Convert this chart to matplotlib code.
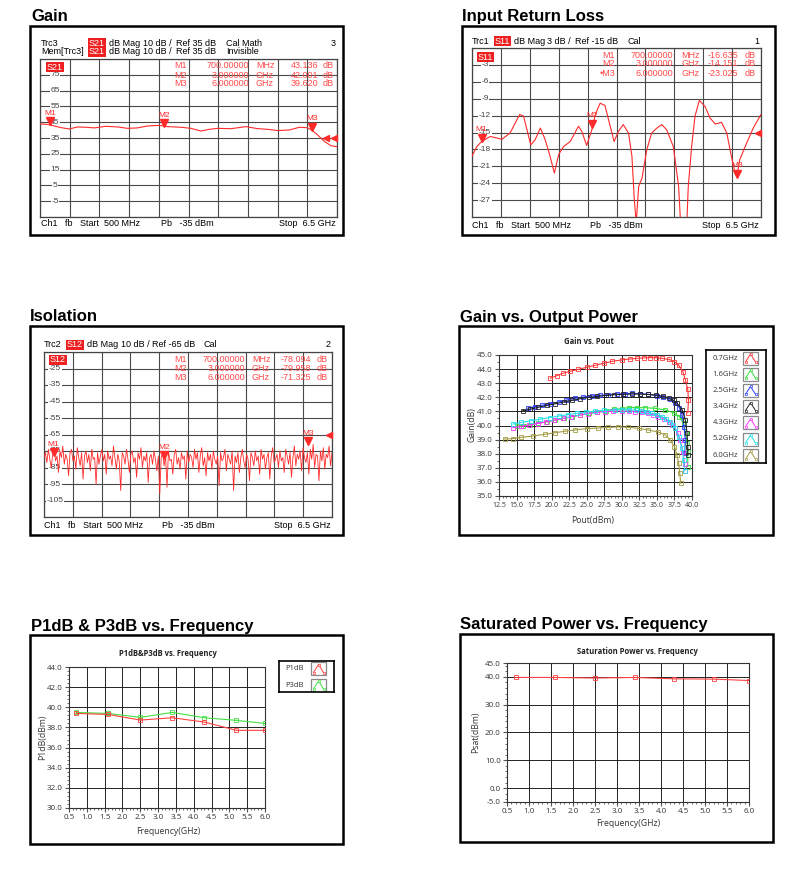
import numpy as np
import matplotlib
matplotlib.use("Agg")
import matplotlib.pyplot as plt
from matplotlib.patches import Rectangle
from matplotlib.ticker import MultipleLocator, AutoMinorLocator, FormatStrFormatter
from matplotlib.transforms import offset_copy

W, H = 806, 873
plt.rcParams['font.family'] = ['Liberation Sans', 'DejaVu Sans']

VNA_RED = '#ff2a2a'

# --- Gain (S21) trace, GHz / dB ---
gain_freq = [0.5, 0.65, 0.79, 0.92, 1.09, 1.26, 1.43, 1.6, 1.83, 2.07, 2.27, 2.47, 2.67,
             2.91, 3.08, 3.35, 3.55, 3.75, 3.92, 4.09, 4.36, 4.66, 4.9, 5.1, 5.3, 5.54,
             5.74, 5.9, 6.0, 6.11, 6.25, 6.38, 6.5]
gain_s21 = [43.9, 43.6, 42.6, 41.6, 40.7, 42.0, 41.8, 41.4, 42.4, 42.0, 41.1, 41.4, 42.6,
            43.0, 42.2, 41.8, 41.1, 39.4, 40.5, 41.1, 40.9, 42.2, 40.9, 40.5, 39.7, 40.1,
            41.8, 41.5, 39.8, 36.9, 32.7, 30.1, 29.5]
gain_mk_freq = [0.7, 3.0, 6.0]
gain_mk_val = [43.136, 42.001, 39.620]

# --- Input return loss (S11) ---
irl_freq = [0.5, 0.6, 0.7, 0.88, 1.12, 1.29, 1.49, 1.57, 1.72, 1.81, 1.92, 2.02, 2.12, 2.21,
            2.30, 2.40, 2.54, 2.71, 2.78, 2.88, 3.0, 3.06, 3.16, 3.26, 3.37, 3.45, 3.54, 3.64,
            3.75, 3.82, 3.87, 3.91, 3.96, 4.03, 4.13, 4.23, 4.34, 4.44, 4.54, 4.68, 4.79, 4.83,
            4.96, 4.99, 5.06, 5.13, 5.22, 5.34, 5.44, 5.55, 5.68, 5.79, 5.87, 5.96, 6.0, 6.06,
            6.20, 6.34, 6.5]
irl_s11 = [-19.2, -17.5, -16.6, -15.7, -16.2, -15.1, -11.8, -12.1, -17.2, -16.3, -14.2, -16.3,
           -19.2, -22.2, -18.9, -17.5, -16.6, -13.9, -14.8, -17.3, -14.2, -11.8, -9.8, -10.2,
           -13.9, -16.6, -14.8, -13.6, -15.1, -19.2, -26.9, -31.0, -24.6, -23.1, -18.0, -15.1,
           -14.2, -13.6, -14.5, -17.5, -24.6, -31.0, -31.0, -24.6, -17.5, -12.1, -9.3, -10.4,
           -12.4, -13.5, -13.2, -15.1, -18.6, -22.2, -22.8, -19.8, -16.9, -14.2, -11.8]
irl_mk_freq = [0.7, 3.0, 6.0]
irl_mk_val = [-16.635, -14.151, -23.025]

# --- Isolation (S12), 200 sweep points from 0.5 to 6.5 GHz ---
iso_s12 = [
    -79, -76, -82, -74, -80, -85, -77, -73, -81, -78, -88, -75, -79, -72, -83, -77, -80, -90, -76, -74,
    -81, -78, -86, -73, -79, -84, -76, -92, -78, -75, -82, -77, -87, -74, -80, -79, -95, -76, -83, -78,
    -74, -81, -77, -89, -75, -80, -78, -84, -72, -79, -86, -77, -81, -99, -76, -78, -83, -74, -80, -88,
    -77, -75, -82, -79, -91, -76, -80, -73, -85, -78, -81, -76, -94, -79, -77, -83, -75, -80, -87, -78,
    -101, -79, -76, -84, -78, -97, -75, -81, -80, -89, -77, -74, -83, -79, -86, -76, -80, -78, -92, -75,
    -82, -77, -79, -85, -74, -80, -76, -88, -78, -73, -84, -79, -90, -76, -81, -77, -86, -75, -80, -83,
    -78, -96, -76, -81, -79, -74, -87, -77, -80, -83, -75, -99, -78, -82, -76, -88, -79, -74, -81, -85,
    -77, -80, -93, -76, -79, -84, -75, -81, -78, -89, -74, -80, -77, -86, -79, -76, -92, -78, -73, -82,
    -80, -77, -85, -75, -81, -79, -88, -74, -78, -83, -76, -91, -79, -72, -84, -77, -80, -75, -87, -73,
    -79, -82, -76, -89, -74, -80, -71, -85, -77, -78, -93, -75, -81, -73, -86, -77, -79, -72, -84, -76,
]
iso_mk_freq = [0.7, 3.0, 6.0]
iso_mk_val = [-78.094, -79.958, -71.325]

# --- Gain vs Pout ---
pout_labels = ['0.7GHz', '1.6GHz', '2.5GHz', '3.4GHz', '4.3GHz', '5.2GHz', '6.0GHz']
pout_colors = ['#ff3838', '#33dd33', '#2b3cff', '#222222', '#ff33ff', '#22e0e8', '#a39c45']
pout_07 = [19.8, 20.7, 21.6, 22.6, 23.8, 25.0, 26.2, 27.4, 28.6, 30.0, 31.2, 32.1, 33.1, 34.0,
           34.8, 35.7, 36.7, 37.5, 38.1, 38.7, 39.05, 39.4, 39.5, 39.4]
gain_07 = [43.35, 43.53, 43.7, 43.84, 43.98, 44.13, 44.27, 44.41, 44.55, 44.65, 44.72, 44.76,
           44.79, 44.81, 44.81, 44.76, 44.69, 44.53, 44.29, 43.82, 43.23, 42.56, 41.8, 40.9]
pout_16 = [15.0, 15.9, 16.9, 18.1, 19.3, 20.5, 21.7, 22.9, 24.1, 25.3, 26.5, 27.7, 28.9, 30.0,
           31.0, 32.1, 33.3, 34.75, 36.2, 37.4, 38.2, 38.8, 39.1, 39.3, 39.4, 39.4]
gain_16 = [39.95, 40.0, 40.05, 40.15, 40.26, 40.37, 40.5, 40.62, 40.74, 40.86, 40.97, 41.06,
           41.14, 41.2, 41.26, 41.27, 41.26, 41.22, 41.1, 40.9, 40.63, 40.15, 39.44, 38.74,
           38.14, 37.08]
pout_25 = [16.6, 17.6, 18.6, 19.8, 21.0, 22.1, 23.3, 24.5, 25.7, 26.9, 28.1, 29.3, 30.5, 31.4,
           32.6, 33.8, 35.0, 35.9, 36.9, 37.6, 38.2, 38.6, 38.85, 39.05, 38.95]
gain_25 = [41.22, 41.34, 41.43, 41.55, 41.67, 41.8, 41.93, 42.02, 42.09, 42.14, 42.19, 42.23,
           42.26, 42.28, 42.26, 42.21, 42.12, 42.02, 41.86, 41.62, 41.27, 40.74, 39.92, 38.97,
           38.03]
pout_34 = [15.9, 16.9, 18.1, 19.3, 20.5, 21.7, 22.9, 24.1, 25.3, 26.5, 27.7, 28.9, 30.1, 31.4,
           32.6, 33.7, 34.8, 35.8, 36.7, 37.4, 37.9, 38.6, 39.05, 39.3, 39.4, 39.4]
gain_34 = [41.05, 41.15, 41.29, 41.42, 41.54, 41.66, 41.78, 41.9, 41.99, 42.06, 42.13, 42.18,
           42.21, 42.23, 42.23, 42.2, 42.16, 42.08, 41.95, 41.78, 41.57, 41.1, 40.39, 39.44,
           38.5, 37.9]
pout_43 = [14.5, 15.6, 16.8, 18.0, 19.2, 20.4, 21.6, 22.8, 24.0, 25.2, 26.4, 27.6, 28.8, 30.0,
           31.0, 31.9, 32.9, 33.8, 34.5, 35.2, 36.0, 36.7, 37.2, 37.6, 38.0, 38.3, 38.7, 38.95,
           38.95]
gain_43 = [39.85, 39.93, 40.03, 40.14, 40.26, 40.38, 40.5, 40.62, 40.74, 40.85, 40.93, 40.99,
           41.02, 41.03, 41.02, 40.98, 40.93, 40.86, 40.77, 40.63, 40.47, 40.27, 40.05, 39.8,
           39.45, 38.97, 38.14, 37.3, 36.8]
pout_52 = [14.5, 15.7, 17.1, 18.4, 19.7, 21.0, 22.3, 23.6, 24.9, 26.2, 27.5, 29.05, 30.0, 31.0,
           32.0, 32.85, 33.6, 34.3, 35.0, 35.7, 36.3, 36.9, 37.3, 37.6, 38.1, 38.6, 38.8, 38.95]
gain_52 = [40.1, 40.22, 40.34, 40.45, 40.56, 40.67, 40.77, 40.86, 40.95, 41.02, 41.07, 41.1,
           41.12, 41.12, 41.08, 41.03, 40.95, 40.86, 40.76, 40.63, 40.47, 40.27, 40.05, 39.8,
           39.21, 38.38, 37.55, 36.8]
pout_60 = [13.3, 14.5, 15.7, 17.4, 19.0, 20.5, 21.9, 23.3, 25.0, 26.65, 28.1, 29.5, 30.95, 32.4,
           33.8, 35.2, 36.2, 36.9, 37.5, 37.85, 38.1, 38.25, 38.4]
gain_60 = [39.04, 39.07, 39.16, 39.26, 39.37, 39.49, 39.59, 39.68, 39.78, 39.82, 39.87, 39.9,
           39.87, 39.8, 39.68, 39.54, 39.33, 38.97, 38.5, 37.9, 37.32, 36.6, 35.9]
pout_series = [(pout_07, gain_07), (pout_16, gain_16), (pout_25, gain_25), (pout_34, gain_34),
               (pout_43, gain_43), (pout_52, gain_52), (pout_60, gain_60)]

# --- P1dB / P3dB / Psat vs frequency ---
freq_pts = [0.7, 1.6, 2.5, 3.4, 4.3, 5.2, 6.0]
p1db = [39.39, 39.29, 38.73, 38.96, 38.53, 37.71, 37.71]
p3db = [39.49, 39.39, 39.0, 39.49, 38.96, 38.7, 38.4]
psat = [39.8, 39.8, 39.6, 39.8, 39.3, 39.2, 38.7]

fig = plt.figure(figsize=(W / 100, H / 100), dpi=100)


def px_axes(l, t, r, b):
    return fig.add_axes([l / W, 1 - b / H, (r - l) / W, (b - t) / H])


def ftext(x, y, s, **kw):
    kw.setdefault('va', 'center')
    kw.setdefault('fontsize', 6.5)
    return fig.text(x / W, 1 - y / H, s, **kw)


def frame(l, t, r, b):
    fig.add_artist(Rectangle((l / W, 1 - b / H), (r - l) / W, (b - t) / H,
                             transform=fig.transFigure, fill=False, ec='black', lw=1.8))


def section(x, y, s):
    fig.text(x / W, 1 - y / H, s, fontsize=12, fontweight='bold', va='baseline')


def red_tag(x, y, s):
    ftext(x, y, s, color='white', bbox=dict(fc='#ee2020', ec='none', pad=0.6))


def header(y, parts):
    # parts: list of (x, text)
    for x, s in parts:
        ftext(x, y, s)


# ---------- VNA style screens ----------
def vna_axes(l, t, r, b, ylim, ylabels, label_dx):
    ax = px_axes(l, t, r, b)
    ax.set_xlim(0.5, 6.5)
    ax.set_ylim(*ylim)
    ax.set_xticks(np.linspace(0.5, 6.5, 11))
    ax.set_yticks(np.linspace(ylim[0], ylim[1], 11))
    ax.grid(True, color='#4a4a4a', lw=0.8)
    ax.tick_params(length=0, labelbottom=False, labelleft=False)
    for s in ax.spines.values():
        s.set_color('#444')
        s.set_lw(0.9)
    for v in ylabels:
        ax.text(label_dx / (r - l), v, f'{v}', transform=ax.get_yaxis_transform(),
                ha='center', va='center', fontsize=6, color='#444',
                bbox=dict(fc='white', ec='none', pad=0.4))
    return ax


def vna_markers(ax, xs, ys):
    tr = offset_copy(ax.transData, fig=fig, y=3, units='points')
    for i, (x, y) in enumerate(zip(xs, ys)):
        ax.plot([x], [y], 'v', color=VNA_RED, ms=5.5, transform=tr, zorder=6)
        ax.annotate(f'M{i + 1}', (x, y), xytext=(0, 8.5), textcoords='offset points',
                    ha='center', va='center', fontsize=6, color=VNA_RED, zorder=6)


def ref_marker(ax, level, xs):
    ax.plot(xs, [level] * len(xs), '<', color=VNA_RED, ms=5,
            transform=ax.get_yaxis_transform(), clip_on=False, zorder=6)


def marker_table(rows, y0, dy, cols, freqs, units, vals):
    for i in range(3):
        y = y0 + i * dy
        ftext(cols[0], y, rows[i], ha='right', color='#ff4a4a')
        ftext(cols[1], y, freqs[i], ha='right', color='#ff4a4a')
        ftext(cols[2], y, units[i], ha='left', color='#ff4a4a')
        ftext(cols[3], y, vals[i], ha='right', color='#ff4a4a')
        ftext(cols[4], y, 'dB', ha='left', color='#ff4a4a')


def footer(l, r, y, pb_x):
    ftext(l, y, 'Ch1   fb   Start  500 MHz')
    ftext(pb_x, y, 'Pb   -35 dBm')
    ftext(r, y, 'Stop  6.5 GHz', ha='right')


mk_freq_txt = ['700.00000', '3.000000', '6.000000']
mk_units = ['MHz', 'GHz', 'GHz']

# Gain
section(31, 21, 'Gain')
frame(30, 26, 343, 235)
ftext(41, 43, 'Trc3')
ftext(41, 52, 'Mem[Trc3]')
red_tag(89, 43, 'S21')
red_tag(89, 52, 'S21')
for yy in (43, 52):
    header(yy, [(109, 'dB Mag'), (143, '10 dB /'), (176, 'Ref 35 dB')])
ftext(226, 43, 'Cal Math')
ftext(226, 52, 'Invisible')
ftext(336, 43, '3', ha='right')
ax = vna_axes(40, 59, 337, 217, (-15, 85), [75, 65, 55, 45, 35, 25, 15, 5, -5], 15)
ax.plot(gain_freq, gain_s21, color=VNA_RED, lw=0.8, zorder=5)
vna_markers(ax, gain_mk_freq, gain_mk_val)
ref_marker(ax, 35, [0.962, 0.99])
red_tag(47, 67, 'S21')
marker_table(['M1', 'M2', 'M3'], 66, 9, [187, 249, 256, 318, 323],
             mk_freq_txt, mk_units, [f'{v:.3f}' for v in gain_mk_val])
footer(41, 336, 223, 161)

# Input return loss
section(462, 21, 'Input Return Loss')
frame(462, 26, 775, 235)
ftext(472, 41, 'Trc1')
red_tag(495, 41, 'S11')
header(41, [(514, 'dB Mag'), (547, '3 dB /'), (575, 'Ref -15 dB'), (627, 'Cal')])
ftext(759, 41, '1', ha='right')
ax = vna_axes(472, 48, 761, 217, (-30, 0), [-3, -6, -9, -12, -15, -18, -21, -24, -27], 13)
ax.plot(irl_freq, irl_s11, color=VNA_RED, lw=0.8, zorder=5)
vna_markers(ax, irl_mk_freq, irl_mk_val)
ref_marker(ax, -15, [0.99])
red_tag(478, 57, 'S11')
marker_table(['M1', 'M2', '\u2022M3'], 55, 9, [615, 673, 681, 738, 745],
             mk_freq_txt, mk_units, [f'{v:.3f}' for v in irl_mk_val])
footer(472, 759, 225, 590)

# Isolation
section(30, 321, 'Isolation')
frame(30, 326, 343, 535)
ftext(44, 345, 'Trc2')
red_tag(67, 345, 'S12')
header(345, [(87, 'dB Mag'), (121, '10 dB /'), (152, 'Ref -65 dB'), (204, 'Cal')])
ftext(331, 345, '2', ha='right')
ax = vna_axes(44, 352, 332, 517, (-115, -15), [-25, -35, -45, -55, -65, -75, -85, -95, -105], 11)
iso_freq = np.linspace(0.5, 6.5, len(iso_s12))
ax.plot(iso_freq, iso_s12, color=VNA_RED, lw=0.6, zorder=5)
vna_markers(ax, iso_mk_freq, iso_mk_val)
ref_marker(ax, -65, [0.99])
red_tag(50, 360, 'S12')
marker_table(['M1', 'M2', 'M3'], 360, 8.7, [187, 245, 252, 311, 317],
             mk_freq_txt, mk_units, [f'{v:.3f}' for v in iso_mk_val])
footer(44, 331, 525, 162)


# ---------- LabVIEW style graphs ----------
LV_FONT = ['Open Sans', 'DejaVu Sans']


def lv_axes(l, t, r, b, xsize=5.8):
    ax = px_axes(l, t, r, b)
    ax.grid(True, which='major', color='#222', lw=0.7)
    for s in ax.spines.values():
        s.set_color('#333')
        s.set_lw(0.8)
    ax.tick_params(which='both', direction='out', color='#555', labelsize=5.8,
                   labelcolor='#333', pad=1.5)
    ax.tick_params(axis='x', labelsize=xsize)
    ax.tick_params(which='major', length=3)
    ax.tick_params(which='minor', length=1.5)
    return ax


def lv_labels(ax, title, xlabel, ylabel, title_xy, xlabel_xy, ylabel_xy):
    ftext(*title_xy, title, ha='center', fontsize=5.5, fontweight='bold', family=LV_FONT, color='#222')
    ftext(*xlabel_xy, xlabel, ha='center', fontsize=6.2, family=LV_FONT, color='#333')
    ftext(*ylabel_xy, ylabel, ha='center', fontsize=6.2, family=LV_FONT, color='#333', rotation=90)
    for lbl in ax.get_xticklabels() + ax.get_yticklabels():
        lbl.set_family(LV_FONT)


def lv_legend(l, t, r, b, labels, colors, row_y, text_x, icon_x):
    lg = px_axes(l, t, r, b)
    lg.set_xlim(l, r)
    lg.set_ylim(b, t)
    lg.set_xticks([])
    lg.set_yticks([])
    for s in lg.spines.values():
        s.set_lw(1.2)
        s.set_color('black')
    for lab, c, y in zip(labels, colors, row_y):
        lg.text(text_x, y, lab, ha='right', va='center', fontsize=5.5, family=LV_FONT, color='#333')
        lg.add_patch(Rectangle((icon_x, y - 6.5), 15, 13, fill=False, ec='#8a8a8a', lw=0.9))
        lg.plot([icon_x + 2.5, icon_x + 7.5, icon_x + 12.5], [y + 4, y - 4, y + 4], color=c,
                lw=0.7, marker='s', ms=2, mfc='white', mew=0.5)


def line_with_squares(ax, x, y, c, ms=2.6):
    ax.plot(x, y, color=c, lw=0.8, marker='s', ms=ms, mfc='none', mew=0.6, zorder=4)


# Gain vs output power
section(460, 322, 'Gain vs. Output Power')
frame(459, 326, 773, 535)
ax = lv_axes(499, 355, 692, 496, xsize=5.0)
ax.set_xlim(12.5, 40)
ax.set_ylim(35, 45)
ax.xaxis.set_major_locator(MultipleLocator(2.5))
ax.yaxis.set_major_locator(MultipleLocator(1.0))
ax.xaxis.set_minor_locator(AutoMinorLocator(5))
ax.yaxis.set_minor_locator(AutoMinorLocator(2))
ax.xaxis.set_major_formatter(FormatStrFormatter('%.1f'))
ax.yaxis.set_major_formatter(FormatStrFormatter('%.1f'))
for (px, gy), c in zip(pout_series, pout_colors):
    line_with_squares(ax, px, gy, c, ms=2.2)
lv_labels(ax, 'Gain vs. Pout', 'Pout(dBm)', 'Gain(dB)', (589, 342), (593, 520), (472, 425))
lv_legend(706, 350, 766, 463, pout_labels, pout_colors,
          [358 + 16.2 * i for i in range(7)], 738, 743)

# P1dB & P3dB vs frequency
section(31, 631, 'P1dB & P3dB vs. Frequency')
frame(30, 635, 343, 844)
ax = lv_axes(69, 667, 265, 808)
ax.set_xlim(0.5, 6.0)
ax.set_ylim(30, 44)
ax.xaxis.set_major_locator(MultipleLocator(0.5))
ax.yaxis.set_major_locator(MultipleLocator(2.0))
ax.xaxis.set_minor_locator(AutoMinorLocator(5))
ax.yaxis.set_minor_locator(AutoMinorLocator(5))
ax.xaxis.set_major_formatter(FormatStrFormatter('%.1f'))
ax.yaxis.set_major_formatter(FormatStrFormatter('%.1f'))
line_with_squares(ax, freq_pts, p3db, '#44e044')
line_with_squares(ax, freq_pts, p1db, '#ff4040')
lv_labels(ax, 'P1dB&P3dB vs. Frequency', 'Frequency(GHz)', 'P1dB(dBm)', (168, 653), (168, 831), (43, 737))
lv_legend(279, 661, 334, 692, ['P1dB', 'P3dB'], ['#ff4040', '#44e044'], [668.5, 685], 304, 311)

# Saturated power vs frequency
section(460, 629, 'Saturated Power vs. Frequency')
frame(460, 634, 773, 842)
ax = lv_axes(507, 663, 749, 802)
ax.set_xlim(0.5, 6.0)
ax.set_ylim(-5, 45)
ax.xaxis.set_major_locator(MultipleLocator(0.5))
ax.set_yticks([-5, 0, 10, 20, 30, 40, 45])
ax.xaxis.set_minor_locator(AutoMinorLocator(5))
ax.yaxis.set_minor_locator(MultipleLocator(2.0))
ax.xaxis.set_major_formatter(FormatStrFormatter('%.1f'))
ax.yaxis.set_major_formatter(FormatStrFormatter('%.1f'))
line_with_squares(ax, freq_pts, psat, '#ff4040')
lv_labels(ax, 'Saturation Power vs. Frequency', 'Frequency(GHz)', 'Psat(dBm)', (637, 652), (628, 823), (476, 732))

fig.savefig('out.png', dpi=100, facecolor='white')
